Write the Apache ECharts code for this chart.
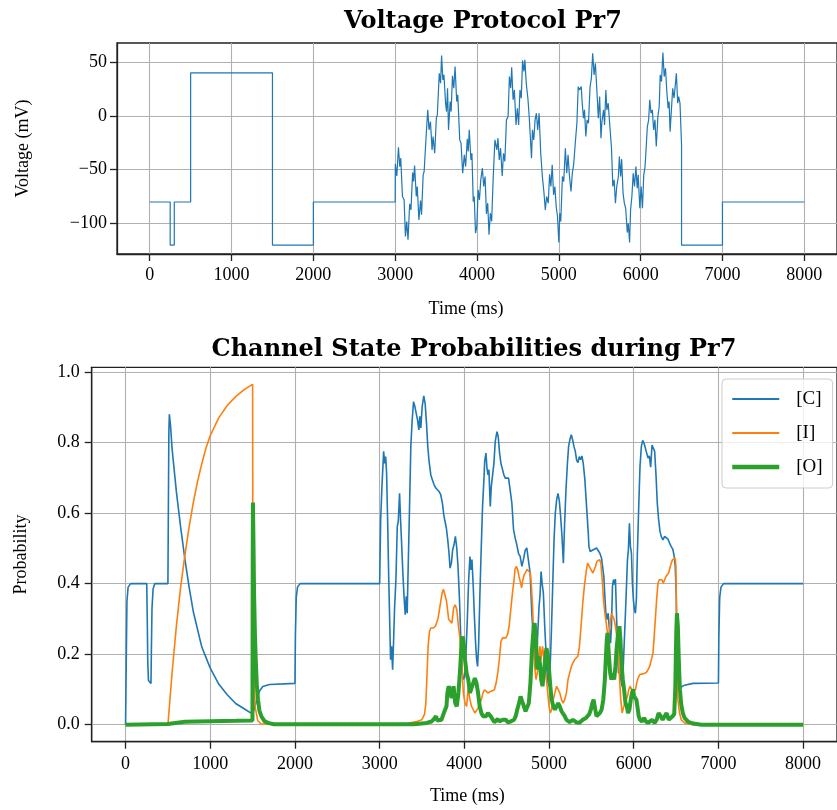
<!DOCTYPE html>
<html>
<head>
<meta charset="utf-8">
<title>Voltage Protocol Pr7</title>
<script src="https://cdn.jsdelivr.net/npm/echarts@6/dist/echarts.min.js"></script>
<style>
    html, body { margin: 0; padding: 0; background: #fff; }
    #chart { width: 837px; height: 810px; }
</style>
</head>
<body>
<div id="chart"></div>
<script>
    // tick values shared by both panels
    var timeTicks = [0, 1000, 2000, 3000, 4000, 5000, 6000, 7000, 8000];
    var voltTicks = [-100, -50, 0, 50];
    var probTicks = [0, 0.2, 0.4, 0.6, 0.8, 1.0];

    // voltage protocol [time ms, mV]
    var voltage = [
        [0, -80], [250, -80], [250, -120], [300, -120], [300, -80], [500, -80], [500, 40], [1500, 40],
        [1500, -120], [2000, -120], [2000, -80], [3000, -80], [3002, -44.6],
        [3020, -55.7], [3040, -29.1], [3056, -47.1], [3068, -39.3], [3089, -74.9], [3109, -78], [3125, -112.1],
        [3141, -98.2], [3157, -115.1], [3177, -81.7], [3193, -87.3], [3213, -52.6], [3225, -61], [3237, -46.1],
        [3258, -74.9], [3270, -65.6], [3290, -96.6], [3310, -78.6], [3322, -91.9], [3342, -54.8], [3354, -51.7],
        [3378, -19.2], [3398, 5.6], [3414, -13], [3431, -5.3], [3451, -31.6], [3463, -19.2], [3483, -34.7],
        [3503, -2.2], [3515, 0.9], [3539, 39.6], [3555, 30.3], [3567, 56], [3583, 33.4], [3596, 38.1],
        [3616, 11.8], [3628, 4], [3640, 25.7], [3652, -13], [3672, 13.3], [3684, 4], [3700, 37.2], [3716, 25.7],
        [3732, 45.8], [3752, 13.3], [3765, 19.5], [3789, -22.3], [3805, -25.4], [3825, -53.3], [3845, -36.2],
        [3861, -47.1], [3881, -21.4], [3893, -33.1], [3905, -13], [3926, -40.9], [3938, -34.7], [3954, -79.6],
        [3966, -74.9], [3982, -109], [3998, -102.8], [4014, -68.7], [4030, -78], [4046, -59.4], [4066, -48.6],
        [4082, -65.6], [4099, -56.3], [4115, -91], [4131, -81.1], [4147, -110.5], [4163, -90.4], [4179, -98.1],
        [4199, -55.7], [4219, -22.3], [4227, -20.7], [4243, -31.6], [4256, -20.7], [4272, -40.9], [4288, -30],
        [4308, -55.7], [4324, -34.7], [4340, -42.4], [4360, -3.7], [4380, -0.6], [4396, 36.5], [4412, 25.7],
        [4424, 45.2], [4441, 14.9], [4457, 24.1], [4477, -8.4], [4493, 7.1], [4509, -8.4], [4525, 24.1],
        [4541, 16.4], [4557, 51.4], [4573, 41.2], [4585, 52], [4602, 30.3], [4622, 16.4], [4638, -0.6],
        [4654, -22.3], [4666, -39.3], [4678, -13], [4694, -22.3], [4710, -3.7], [4726, 2.5], [4742, -13],
        [4759, 2.5], [4779, -34.7], [4799, -56.3], [4819, -71.8], [4835, -87.3], [4851, -74.9], [4871, -81.1],
        [4887, -54.2], [4903, -65.6], [4919, -45.5], [4936, -73.4], [4952, -65.6], [4968, -84.2], [4984, -93.5],
        [5000, -117.6], [5012, -90.4], [5024, -98.1], [5044, -56.3], [5060, -61], [5080, -30], [5097, -53.3],
        [5113, -36.2], [5129, -54.8], [5149, -70.3], [5165, -53.3], [5181, -45.5], [5201, -25.4], [5221, -6.8],
        [5237, 27.2], [5253, 24.1], [5274, 27.2], [5286, 11.8], [5302, -2.2], [5314, 5.6], [5330, -19.2],
        [5346, -3.7], [5362, -6.8], [5382, 27.2], [5398, 35], [5414, 58.2], [5431, 38.1], [5447, 48.9],
        [5467, 21.1], [5483, -2.2], [5499, 18], [5515, -20.7], [5527, -5.3], [5547, 5.6], [5559, -8.4],
        [5575, 24.1], [5587, 5.6], [5604, 11.8], [5624, -9.9], [5644, -30], [5660, -65.6], [5676, -59.4],
        [5692, -81.1], [5708, -65.6], [5728, -56.3], [5740, -37.8], [5756, -56.3], [5768, -40.2], [5785, -71.8],
        [5801, -81.1], [5817, -85.8], [5837, -108.4], [5849, -99.7], [5865, -117.6], [5877, -87.3], [5893, -74.9],
        [5909, -53.3], [5925, -65.6], [5942, -47.1], [5958, -67.2], [5970, -54.8], [5990, -85.8], [6006, -65.6],
        [6022, -85.8], [6038, -54.8], [6054, -47.1], [6066, -31.6], [6082, -9.9], [6098, -3.7], [6111, 14.9],
        [6127, 2.5], [6143, 5.6], [6159, -13], [6175, -3.7], [6191, -28.5], [6211, -0.6], [6227, 8.7],
        [6239, 38.1], [6255, 31.9], [6272, 58.8], [6288, 36.5], [6304, 44.3], [6320, 22.6], [6336, 7.1],
        [6348, 13.3], [6360, -14.6], [6376, 5.6], [6392, 25.7], [6408, 16.4], [6424, 28.8], [6437, 39.6],
        [6453, 11.8], [6465, 18], [6481, 11.8], [6500, -26.9], [6500, -120], [7000, -120], [7000, -80], [8000, -80]
    ];

    // closed state probability [time ms, p]
    var closedProb = [
        [0, 0], [8, 0.18], [16, 0.35], [30, 0.39], [60, 0.4], [250, 0.4], [256, 0.3], [262, 0.18], [270, 0.125],
        [300, 0.117], [304, 0.2], [312, 0.33], [325, 0.385], [345, 0.4], [500, 0.4], [505, 0.6], [511, 0.83],
        [517, 0.88], [530, 0.85], [550, 0.78], [600, 0.66], [650, 0.56], [700, 0.47], [750, 0.39], [800, 0.32],
        [850, 0.27], [900, 0.22], [950, 0.19], [1000, 0.16], [1100, 0.115], [1200, 0.085], [1300, 0.06],
        [1400, 0.045], [1500, 0.03], [1520, 0.035], [1550, 0.07], [1580, 0.095], [1620, 0.108], [1700, 0.114],
        [2000, 0.117], [2005, 0.25], [2015, 0.36], [2030, 0.39], [2060, 0.4], [3000, 0.4],
        [3012, 0.581], [3027, 0.675], [3047, 0.775], [3059, 0.741], [3071, 0.76], [3082, 0.713], [3094, 0.581],
        [3106, 0.43], [3118, 0.298], [3129, 0.184], [3141, 0.222], [3153, 0.156], [3165, 0.241], [3176, 0.331],
        [3192, 0.411], [3208, 0.562], [3220, 0.576], [3235, 0.656], [3247, 0.581], [3259, 0.515], [3274, 0.43],
        [3290, 0.354], [3302, 0.312], [3314, 0.364], [3325, 0.316], [3337, 0.449], [3353, 0.619], [3368, 0.789],
        [3384, 0.864], [3400, 0.916], [3416, 0.902], [3431, 0.907], [3447, 0.864], [3463, 0.836], [3474, 0.874],
        [3486, 0.841], [3502, 0.902], [3521, 0.932], [3537, 0.911], [3553, 0.855], [3568, 0.789], [3584, 0.746],
        [3604, 0.708], [3623, 0.694], [3643, 0.68], [3663, 0.671], [3682, 0.675], [3702, 0.661], [3721, 0.652],
        [3741, 0.628], [3757, 0.595], [3772, 0.576], [3788, 0.557], [3804, 0.524], [3819, 0.486], [3831, 0.444],
        [3847, 0.458], [3862, 0.496], [3878, 0.51], [3894, 0.534], [3909, 0.505], [3925, 0.449], [3941, 0.364],
        [3956, 0.26], [3972, 0.156], [3988, 0.128], [4004, 0.137], [4019, 0.203], [4035, 0.298], [4051, 0.411],
        [4066, 0.477], [4078, 0.439], [4090, 0.468], [4105, 0.392], [4117, 0.316], [4133, 0.231], [4145, 0.184],
        [4156, 0.165], [4168, 0.222], [4184, 0.373], [4200, 0.505], [4215, 0.619], [4231, 0.694], [4240, 0.746],
        [4255, 0.77], [4267, 0.727], [4279, 0.708], [4290, 0.723], [4306, 0.619], [4318, 0.675], [4334, 0.671],
        [4349, 0.741], [4365, 0.803], [4385, 0.831], [4400, 0.817], [4416, 0.77], [4432, 0.741], [4447, 0.727],
        [4467, 0.708], [4483, 0.699], [4502, 0.704], [4522, 0.699], [4541, 0.694], [4561, 0.628], [4581, 0.553],
        [4600, 0.529], [4620, 0.51], [4639, 0.486], [4659, 0.477], [4679, 0.449], [4698, 0.468], [4718, 0.494],
        [4737, 0.501], [4757, 0.496], [4777, 0.43], [4796, 0.316], [4816, 0.241], [4835, 0.165], [4851, 0.175],
        [4867, 0.26], [4882, 0.335], [4894, 0.368], [4906, 0.434], [4918, 0.401], [4933, 0.373], [4949, 0.279],
        [4965, 0.203], [4980, 0.128], [4996, 0.109], [5012, 0.156], [5027, 0.26], [5043, 0.392], [5059, 0.524],
        [5074, 0.6], [5090, 0.638], [5106, 0.656], [5122, 0.633], [5137, 0.59], [5153, 0.534], [5169, 0.458],
        [5184, 0.571], [5200, 0.666], [5216, 0.737], [5231, 0.789], [5247, 0.809], [5263, 0.822], [5278, 0.808],
        [5294, 0.789], [5310, 0.775], [5325, 0.751], [5341, 0.743], [5357, 0.76], [5372, 0.751], [5388, 0.762],
        [5404, 0.741], [5423, 0.694], [5443, 0.619], [5463, 0.543], [5471, 0.505], [5486, 0.491], [5502, 0.486],
        [5522, 0.496], [5541, 0.491], [5561, 0.501], [5581, 0.496], [5600, 0.486], [5620, 0.472], [5632, 0.449],
        [5647, 0.42], [5659, 0.364], [5671, 0.316], [5686, 0.298], [5698, 0.316], [5710, 0.279], [5726, 0.231],
        [5737, 0.279], [5749, 0.392], [5761, 0.411], [5773, 0.397], [5784, 0.413], [5796, 0.316], [5808, 0.222],
        [5820, 0.146], [5831, 0.156], [5847, 0.128], [5863, 0.109], [5875, 0.156], [5886, 0.222], [5902, 0.316],
        [5914, 0.392], [5926, 0.468], [5937, 0.496], [5949, 0.571], [5961, 0.505], [5973, 0.486], [5984, 0.401],
        [5996, 0.354], [6008, 0.326], [6020, 0.316], [6031, 0.354], [6043, 0.486], [6059, 0.619], [6074, 0.732],
        [6090, 0.789], [6106, 0.806], [6122, 0.798], [6137, 0.793], [6153, 0.77], [6169, 0.756], [6184, 0.762],
        [6200, 0.73], [6216, 0.793], [6231, 0.796], [6247, 0.775], [6263, 0.708], [6278, 0.628], [6294, 0.581],
        [6310, 0.548], [6325, 0.534], [6345, 0.524], [6365, 0.534], [6384, 0.538], [6404, 0.526], [6423, 0.515],
        [6443, 0.505], [6463, 0.496], [6478, 0.477], [6490, 0.449], [6502, 0.364], [6510, 0.269], [6518, 0.194],
        [6529, 0.137], [6541, 0.104], [6560, 0.1], [6600, 0.112], [6700, 0.117], [7000, 0.118], [7005, 0.25],
        [7015, 0.36], [7030, 0.39], [7060, 0.4], [8000, 0.4]
    ];

    // inactivated state probability
    var inactProb = [
        [0, 0], [500, 0], [550, 0.15], [600, 0.28], [650, 0.39], [700, 0.48], [750, 0.56], [800, 0.63],
        [850, 0.69], [900, 0.74], [950, 0.785], [1000, 0.82], [1100, 0.87], [1200, 0.905], [1300, 0.93],
        [1400, 0.95], [1500, 0.965], [1502, 0.6], [1506, 0.35], [1515, 0.15], [1530, 0.05], [1560, 0.012],
        [1600, 0.002], [3300, 0.002], [3361, 0.005], [3439, 0.009], [3498, 0.014], [3530, 0.03], [3545, 0.06],
        [3557, 0.128], [3572, 0.222], [3588, 0.264], [3604, 0.274], [3635, 0.274], [3660, 0.28], [3690, 0.302],
        [3706, 0.326], [3737, 0.373], [3753, 0.384], [3768, 0.387], [3790, 0.35], [3815, 0.298], [3834, 0.293],
        [3853, 0.288], [3873, 0.331], [3892, 0.34], [3911, 0.326], [3930, 0.279], [3950, 0.241], [3969, 0.175],
        [3988, 0.09], [4008, 0.061], [4027, 0.052], [4046, 0.104], [4066, 0.071], [4085, 0.052], [4104, 0.043],
        [4124, 0.033], [4143, 0.038], [4162, 0.047], [4181, 0.061], [4201, 0.071], [4220, 0.09], [4239, 0.099],
        [4259, 0.104], [4278, 0.09], [4297, 0.085], [4317, 0.095], [4336, 0.09], [4355, 0.099], [4375, 0.118],
        [4394, 0.146], [4413, 0.184], [4432, 0.236], [4452, 0.246], [4471, 0.241], [4490, 0.246], [4510, 0.255],
        [4529, 0.279], [4548, 0.326], [4568, 0.373], [4587, 0.411], [4598, 0.44], [4614, 0.449], [4629, 0.44],
        [4645, 0.421], [4664, 0.402], [4676, 0.388], [4691, 0.411], [4707, 0.425], [4722, 0.425], [4741, 0.44],
        [4761, 0.444], [4780, 0.43], [4792, 0.392], [4807, 0.326], [4819, 0.241], [4830, 0.165], [4846, 0.128],
        [4861, 0.146], [4876, 0.146], [4892, 0.222], [4907, 0.184], [4923, 0.222], [4938, 0.194], [4954, 0.156],
        [4969, 0.128], [4985, 0.09], [5000, 0.052], [5015, 0.033], [5031, 0.043], [5050, 0.071], [5069, 0.09],
        [5089, 0.109], [5108, 0.104], [5127, 0.09], [5147, 0.071], [5166, 0.061], [5185, 0.071], [5205, 0.09],
        [5224, 0.128], [5243, 0.146], [5263, 0.165], [5282, 0.175], [5301, 0.184], [5320, 0.184], [5340, 0.194],
        [5359, 0.222], [5378, 0.279], [5398, 0.345], [5417, 0.392], [5436, 0.43], [5455, 0.458], [5471, 0.46],
        [5486, 0.444], [5502, 0.449], [5518, 0.43], [5533, 0.439], [5549, 0.449], [5565, 0.463], [5581, 0.468],
        [5596, 0.468], [5612, 0.458], [5628, 0.411], [5643, 0.354], [5659, 0.316], [5675, 0.288], [5690, 0.26],
        [5706, 0.25], [5722, 0.288], [5737, 0.316], [5753, 0.307], [5769, 0.298], [5784, 0.279], [5800, 0.25],
        [5816, 0.212], [5831, 0.137], [5847, 0.071], [5863, 0.033], [5878, 0.047], [5894, 0.061], [5910, 0.071],
        [5926, 0.08], [5941, 0.099], [5957, 0.109], [5973, 0.104], [5988, 0.094], [6004, 0.09], [6020, 0.099],
        [6035, 0.118], [6051, 0.132], [6071, 0.142], [6090, 0.146], [6110, 0.144], [6129, 0.146], [6149, 0.148],
        [6169, 0.156], [6188, 0.165], [6208, 0.184], [6227, 0.203], [6239, 0.241], [6255, 0.298], [6270, 0.354],
        [6286, 0.401], [6302, 0.411], [6318, 0.416], [6333, 0.411], [6349, 0.401], [6365, 0.411], [6380, 0.42],
        [6396, 0.42], [6412, 0.43], [6427, 0.444], [6443, 0.458], [6459, 0.468], [6474, 0.472], [6490, 0.472],
        [6498, 0.449], [6502, 0.364], [6506, 0.222], [6514, 0.128], [6521, 0.071], [6541, 0.033], [6561, 0.014],
        [6600, 0.005], [6700, 0], [8000, 0]
    ];

    // open state probability
    var openProb = [
        [0, 0], [500, 0.002], [520, 0.005], [700, 0.008], [1000, 0.01], [1300, 0.011], [1498, 0.012],
        [1501, 0.45], [1504, 0.63], [1510, 0.52], [1517, 0.373], [1527, 0.26], [1537, 0.184], [1550, 0.11],
        [1564, 0.071], [1580, 0.04], [1603, 0.024], [1640, 0.01], [1681, 0.005], [1750, 0.001], [3400, 0.001],
        [3437, 0.002], [3555, 0.005], [3613, 0.009], [3640, 0.016], [3652, 0.02], [3666, 0.024], [3680, 0.012],
        [3700, 0.008], [3730, 0.014], [3758, 0.033], [3789, 0.052], [3800, 0.09], [3814, 0.109], [3830, 0.1],
        [3850, 0.075], [3873, 0.109], [3892, 0.061], [3911, 0.052], [3930, 0.09], [3950, 0.156], [3969, 0.241],
        [3981, 0.25], [3996, 0.222], [4008, 0.184], [4027, 0.146], [4046, 0.128], [4066, 0.09], [4085, 0.085],
        [4104, 0.118], [4124, 0.132], [4143, 0.118], [4162, 0.09], [4181, 0.052], [4201, 0.033], [4220, 0.024],
        [4239, 0.028], [4259, 0.024], [4278, 0.033], [4297, 0.028], [4317, 0.022], [4336, 0.014], [4355, 0.007],
        [4375, 0.009], [4394, 0.016], [4413, 0.009], [4433, 0.005], [4452, 0.014], [4471, 0.019], [4490, 0.014],
        [4510, 0.007], [4529, 0.005], [4548, 0.009], [4568, 0.009], [4587, 0.014], [4606, 0.024], [4625, 0.043],
        [4645, 0.061], [4664, 0.08], [4683, 0.066], [4703, 0.052], [4722, 0.038], [4741, 0.043], [4761, 0.061],
        [4780, 0.118], [4799, 0.213], [4819, 0.279], [4830, 0.288], [4846, 0.241], [4861, 0.156], [4876, 0.194],
        [4892, 0.175], [4907, 0.128], [4923, 0.109], [4938, 0.146], [4954, 0.184], [4969, 0.217], [4985, 0.198],
        [5000, 0.156], [5015, 0.109], [5031, 0.071], [5050, 0.052], [5069, 0.043], [5089, 0.052], [5108, 0.061],
        [5127, 0.052], [5147, 0.038], [5166, 0.033], [5185, 0.024], [5205, 0.014], [5224, 0.009], [5243, 0.007],
        [5263, 0.009], [5282, 0.014], [5301, 0.009], [5320, 0.007], [5340, 0.009], [5359, 0.005], [5378, 0.009],
        [5398, 0.014], [5417, 0.009], [5436, 0.019], [5456, 0.024], [5475, 0.03], [5494, 0.043], [5510, 0.06],
        [5526, 0.071], [5541, 0.05], [5560, 0.024], [5580, 0.024], [5600, 0.033], [5620, 0.042], [5640, 0.07],
        [5659, 0.128], [5671, 0.19], [5682, 0.241], [5690, 0.26], [5706, 0.2], [5722, 0.146], [5737, 0.128],
        [5753, 0.146], [5769, 0.128], [5784, 0.165], [5800, 0.222], [5816, 0.26], [5831, 0.279], [5843, 0.24],
        [5855, 0.175], [5871, 0.128], [5886, 0.1], [5902, 0.062], [5918, 0.052], [5933, 0.033], [5949, 0.043],
        [5965, 0.071], [5980, 0.09], [5992, 0.1], [6004, 0.08], [6020, 0.075], [6031, 0.071], [6043, 0.052],
        [6059, 0.024], [6074, 0.014], [6098, 0.009], [6122, 0.019], [6145, 0.009], [6169, 0.005], [6192, 0.005],
        [6216, 0.014], [6247, 0.005], [6271, 0.014], [6294, 0.033], [6318, 0.024], [6341, 0.014], [6365, 0.024],
        [6388, 0.033], [6412, 0.014], [6435, 0.009], [6459, 0.024], [6478, 0.03], [6490, 0.1], [6502, 0.26],
        [6510, 0.316], [6521, 0.279], [6533, 0.175], [6545, 0.1], [6561, 0.057], [6580, 0.033], [6600, 0.019],
        [6639, 0.009], [6700, 0.003], [6800, 0], [8000, 0]
    ];

    var FONT = 'Liberation Serif';
    var TITLE_FONT = 'DejaVu Serif';
    var GRID_COLOR = '#b0b0b0';
    var FRAME_COLOR = '#222';

    function minusSign(v) {
        return String(v).replace('-', '\u2212');
    }

    // one axis def, ticks placed via customValues so they don't start at min
    function valueAxis(gridIndex, min, max, ticks, fmt, extra) {
        var ax = {
            gridIndex: gridIndex,
            type: 'value',
            min: min,
            max: max,
            axisLine: { show: true, onZero: false, lineStyle: { color: FRAME_COLOR, width: 1.3 } },
            axisTick: { show: true, inside: false, length: 7, customValues: ticks,
                lineStyle: { color: FRAME_COLOR, width: 1.3 } },
            axisLabel: { customValues: ticks, formatter: fmt, color: '#000',
                fontFamily: FONT, fontSize: 18, margin: 10 },
            splitLine: { show: true, lineStyle: { color: GRID_COLOR, width: 1.1 } },
            nameTextStyle: { fontFamily: FONT, fontSize: 18, color: '#000' },
            nameLocation: 'middle'
        };
        for (var k in extra) {
            if (k === 'labelMargin') { ax.axisLabel.margin = extra[k]; }
            else if (k === 'namePadding') { ax.nameTextStyle.padding = extra[k]; }
            else { ax[k] = extra[k]; }
        }
        return ax;
    }

    var chart = echarts.init(document.getElementById('chart'), null, { renderer: 'canvas' });

    chart.setOption({
        animation: false,
        backgroundColor: '#fff',
        title: [{
            text: 'Voltage Protocol Pr7',
            left: 478, top: 5, textAlign: 'center',
            textStyle: { fontFamily: TITLE_FONT, fontWeight: 'bold', fontSize: 24, color: '#000' }
        }, {
            text: 'Channel State Probabilities during Pr7',
            left: 469, top: 333, textAlign: 'center',
            textStyle: { fontFamily: TITLE_FONT, fontWeight: 'bold', fontSize: 24, color: '#000' }
        }],
        grid: [
            { left: 117, top: 43, width: 727, height: 211, show: true,
              borderColor: FRAME_COLOR, borderWidth: 1.3, containLabel: false },
            { left: 91.7, top: 367.3, width: 754, height: 374.4, show: true,
              borderColor: FRAME_COLOR, borderWidth: 1.3, containLabel: false }
        ],
        xAxis: [
            valueAxis(0, -400, 8400, timeTicks, function (v) { return String(v); },
                { name: 'Time (ms)', nameGap: 46, labelMargin: 12, namePadding: [0, 22, 0, 0] }),
            valueAxis(1, -400, 8400, timeTicks, function (v) { return String(v); },
                { name: 'Time (ms)', nameGap: 46, labelMargin: 14, namePadding: [0, 0, 0, 6] })
        ],
        yAxis: [
            valueAxis(0, -128.3, 67.7, voltTicks, minusSign,
                { name: 'Voltage (mV)', nameGap: 85, nameRotate: 90, labelMargin: 10 }),
            valueAxis(1, -0.0483, 1.0133, probTicks, function (v) { return v.toFixed(1); },
                { name: 'Probability', nameGap: 61, nameRotate: 90, labelMargin: 12 })
        ],
        legend: {
            data: [
                { name: '[C]' },
                { name: '[I]' },
                { name: '[O]', lineStyle: { width: 4.5 } }
            ],
            orient: 'vertical',
            left: 722, top: 379,
            itemWidth: 47, itemHeight: 14, itemGap: 14,
            padding: [10, 10, 11, 8],
            backgroundColor: 'rgba(255,255,255,0.8)',
            borderColor: '#cccccc', borderWidth: 1, borderRadius: 4,
            selectedMode: false,
            itemStyle: { opacity: 0 },
            textStyle: { fontFamily: FONT, fontSize: 19, lineHeight: 20, color: '#000', padding: [0, 0, 0, 12] }
        },
        series: [{
            name: 'Voltage', type: 'line', xAxisIndex: 0, yAxisIndex: 0,
            data: voltage, symbol: 'none', color: '#1f77b4',
            lineStyle: { width: 1.2 }
        }, {
            name: '[C]', type: 'line', xAxisIndex: 1, yAxisIndex: 1,
            data: closedProb, symbol: 'none', color: '#1f77b4',
            lineStyle: { width: 1.6 }
        }, {
            name: '[I]', type: 'line', xAxisIndex: 1, yAxisIndex: 1,
            data: inactProb, symbol: 'none', color: '#ff7f0e',
            lineStyle: { width: 1.6 }
        }, {
            name: '[O]', type: 'line', xAxisIndex: 1, yAxisIndex: 1,
            data: openProb, symbol: 'none', color: '#2ca02c',
            lineStyle: { width: 4 }
        }]
    });
</script>
</body>
</html>
